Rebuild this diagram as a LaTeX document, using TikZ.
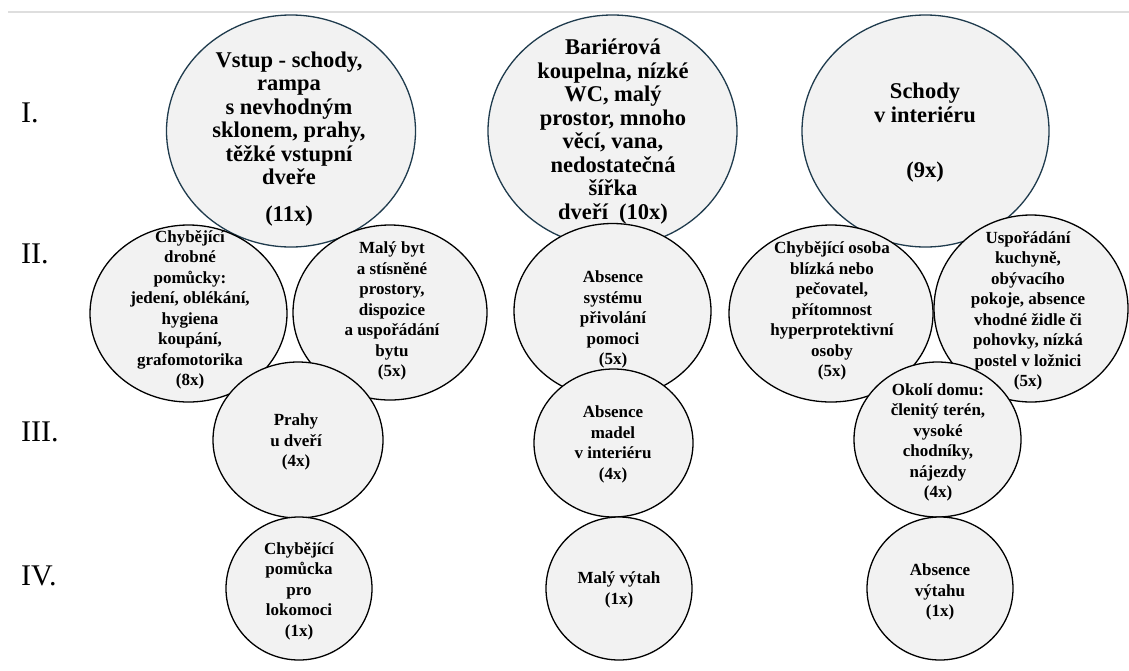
\documentclass[tikz,border=0pt]{standalone}
\usepackage{fontspec}
\setmainfont{Liberation Serif}
\usetikzlibrary{shapes.geometric}

\definecolor{bubblefill}{HTML}{F2F2F2}
\definecolor{topline}{HTML}{1F3B4D}
\definecolor{ruleline}{HTML}{DEDEDE}

\tikzset{
  bubble/.style={ellipse, draw=black, line width=1.3pt, fill=bubblefill,
    inner sep=0pt, outer sep=0pt},
  topbubble/.style={bubble, draw=topline},
  bigtxt/.style={align=center, inner sep=0pt,
    font=\fontsize{22.5}{23.5}\selectfont\bfseries},
  txt/.style={align=center, inner sep=0pt,
    font=\fontsize{17}{20.5}\selectfont\bfseries},
  levellabel/.style={anchor=base west, inner sep=0pt,
    font=\fontsize{30}{32}\selectfont}
}

\begin{document}
\begin{tikzpicture}[x=1pt,y=-1pt]
\useasboundingbox[fill=white] (0,0) rectangle (1129,670);

% thin rule along the top edge
\coordinate (ruleL) at (8,12);
\coordinate (ruleR) at (1129,12);
\draw[ruleline, line width=2pt] (ruleL) -- (ruleR);

% level I
\node[topbubble, minimum width=249pt, minimum height=232pt] (b1a) at (291,131) {};
\node[topbubble, minimum width=249pt, minimum height=232pt] (b1b) at (612.5,131) {};
\node[topbubble, minimum width=247pt, minimum height=232pt] (b1c) at (925.5,131) {};

% level II
\node[bubble, minimum width=197pt, minimum height=177pt] (b2a) at (188.5,313.5) {};
\node[bubble, minimum width=194pt, minimum height=175pt] (b2b) at (390,312.5) {};
\node[bubble, minimum width=197pt, minimum height=175pt] (b2c) at (612.5,311) {};
\node[bubble, minimum width=204pt, minimum height=177pt] (b2d) at (831,313.5) {};
\node[bubble, minimum width=194pt, minimum height=187pt] (b2e) at (1031,308.5) {};

% level III
\node[bubble, minimum width=170pt, minimum height=156pt] (b3a) at (298,440) {};
\node[bubble, minimum width=159pt, minimum height=148pt] (b3b) at (613.5,443) {};
\node[bubble, minimum width=167pt, minimum height=155pt] (b3c) at (937.5,439.5) {};

% level IV
\node[bubble, minimum width=146pt, minimum height=143pt] (b4a) at (299,588.5) {};
\node[bubble, minimum width=146pt, minimum height=143pt] (b4b) at (619,588.5) {};
\node[bubble, minimum width=146pt, minimum height=143pt] (b4c) at (940,588.5) {};

% texts of level I
\node[bigtxt] (t1a) at (289,139) {Vstup - schody,\\rampa\\s nevhodným\\sklonem, prahy,\\těžké vstupní\\dveře\\[13pt](11x)};
\node[bigtxt] (t1b) at (613,131.5) {Bariérová\\koupelna, nízké\\WC, malý\\prostor, mnoho\\věcí, vana,\\nedostatečná\\šířka\\dveří~ (10x)};
\node[bigtxt] (t1c) at (925,132.5) {Schody\\v interiéru\\[31.5pt](9x)};

% texts of level II
\node[txt] (t2a) at (190,310) {Chybějící\\drobné\\pomůcky:\\jedení, oblékání,\\hygiena\\koupání,\\grafomotorika\\(8x)};
\node[txt] (t2b) at (392,311) {Malý byt\\a stísněné\\prostory,\\dispozice\\a uspořádání\\bytu\\(5x)};
\node[txt] (t2c) at (613,319.5) {Absence\\systému\\přivolání\\pomoci\\(5x)};
\node[txt] (t2d) at (832,311) {Chybějící osoba\\blízká nebo\\pečovatel,\\přítomnost\\hyperprotektivní\\osoby\\(5x)};
\node[txt] (t2e) at (1028,311) {Uspořádání\\kuchyně,\\obývacího\\pokoje, absence\\vhodné židle či\\pohovky, nízká\\postel v ložnici\\(5x)};

% texts of level III
\node[txt] (t3a) at (296,442) {Prahy\\u dveří\\(4x)};
\node[txt] (t3b) at (613,444.5) {Absence\\madel\\v interiéru\\(4x)};
\node[txt] (t3c) at (938,442.5) {Okolí domu:\\členitý terén,\\vysoké\\chodníky,\\nájezdy\\(4x)};

% texts of level IV
\node[txt] (t4a) at (299,591) {Chybějící\\pomůcka\\pro\\lokomoci\\(1x)};
\node[txt] (t4b) at (619,590) {Malý výtah\\(1x)};
\node[txt] (t4c) at (940,592) {Absence\\výtahu\\(1x)};

% level numerals
\node[levellabel] (l1) at (21,122) {I.};
\node[levellabel] (l2) at (21,263) {II.};
\node[levellabel] (l3) at (21,441) {III.};
\node[levellabel] (l4) at (21,585) {IV.};
\end{tikzpicture}
\end{document}
